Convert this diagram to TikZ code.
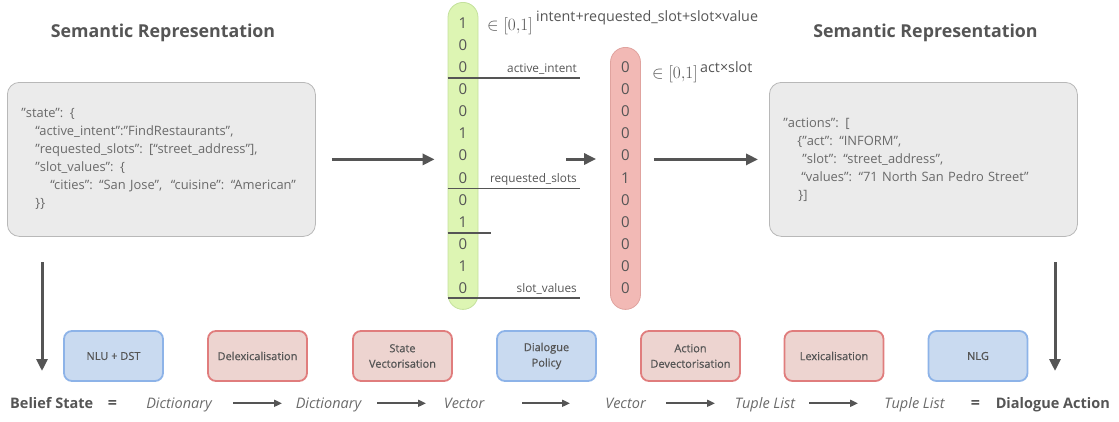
\documentclass[tikz,border=0pt]{standalone}
\usepackage{fontspec}
\setmainfont{Open Sans}
\usetikzlibrary{arrows.meta}
\definecolor{dk}{HTML}{555555}
\definecolor{txt}{HTML}{6A6A6A}
\definecolor{boxfill}{HTML}{EBEBEB}
\definecolor{boxline}{HTML}{B8B8B8}
\definecolor{bfill}{HTML}{C9DAF0}
\definecolor{bline}{HTML}{8DB3E8}
\definecolor{rfill}{HTML}{EDD4D0}
\definecolor{rline}{HTML}{E07D7D}
\definecolor{gvfill}{HTML}{DDF5B3}
\definecolor{gvline}{HTML}{C4E19C}
\definecolor{rvfill}{HTML}{F2B9B5}
\definecolor{rvline}{HTML}{E0A39F}
\begin{document}
\begin{tikzpicture}[x=1pt,y=-1pt,
  title/.style={font=\fontsize{17.8}{18}\selectfont\bfseries, text=dk, inner sep=0},
  jsonbox/.style={draw=boxline, fill=boxfill, rounded corners=12pt, line width=0.8pt,
    minimum height=154pt, text width=280pt, align=left, inner xsep=14pt, inner ysep=0pt,
    font=\fontsize{12.9}{18}\selectfont, text=txt},
  vecbox/.style={rounded corners=15pt, minimum width=30pt, inner sep=0, line width=0.8pt},
  digit/.style={font=\fontsize{15}{15}\selectfont, text=dk, inner sep=0},
  sepline/.style={draw=dk, line width=1.4pt},
  lbl/.style={font=\fontsize{11.8}{12}\selectfont, text=dk, inner sep=1pt},
  bigarr/.style={draw=dk, line width=3pt, -{Triangle[length=12pt,width=11pt]}},
  smarr/.style={draw=dk, line width=1.8pt, -{Triangle[length=8pt,width=7pt]}},
  procbox/.style={rounded corners=8pt, line width=1.8pt, minimum width=99pt, minimum height=50pt,
    align=center, font=\fontsize{11}{15.5}\selectfont\addfontfeature{FakeBold=0.6}, text=dk, inner sep=2pt},
  bluebox/.style={procbox, fill=bfill, draw=bline},
  redbox/.style={procbox, fill=rfill, draw=rline},
  itx/.style={font=\fontsize{14.5}{15}\selectfont\itshape, text=txt, inner sep=0},
  bdx/.style={font=\fontsize{14.5}{15}\selectfont\bfseries, text=dk, inner sep=0},
  eqx/.style={font=\fontsize{16}{16}\selectfont\bfseries, text=dk, inner sep=0},
  memb/.style={inner sep=0, anchor=west, text=dk, font=\fontsize{16.5}{17}\selectfont},
  supx/.style={inner sep=0, anchor=west, text=dk, font=\fontsize{14.3}{15}\selectfont}
]
\useasboundingbox (0,0) rectangle (1119,421);

% titles
\node[title] (t1) at (163,33) {Semantic Representation};
\node[title] (t2) at (925.5,33) {Semantic Representation};

% JSON boxes
\node[jsonbox, anchor=north west] (lbox) at (7,82) {%
"state": \{\\
\hspace*{14pt}“active\_intent”:"FindRestaurants",\\
\hspace*{14pt}"requested\_slots": [“street\_address”],\\
\hspace*{14pt}"slot\_values": \{\\
\hspace*{29pt}“cities”: “San Jose”,\ \ “cuisine”: “American”\\
\hspace*{14pt}\}\}};
\node[jsonbox, anchor=north west] (rbox) at (769,82) {%
"actions": [\\
\hspace*{14pt}\{"act": “INFORM",\\
\hspace*{19pt}"slot": “street\_address”,\\
\hspace*{18pt}“values”: “71 North San Pedro Street"\\
\hspace*{15pt}\}]};

% vectors
\node[vecbox, fill=gvfill, draw=gvline, minimum height=307pt, anchor=north] (gvec) at (463,2) {};
\node[vecbox, fill=rvfill, draw=rvline, minimum height=262pt, anchor=north] (rvec) at (625.5,47) {};
\foreach \d [count=\i from 0] in {1,0,0,0,0,1,0,0,0,1,0,1,0}
  \node[digit] (g\i) at (463,{22.7+22.14*\i}) {\d};
\foreach \d [count=\i from 2] in {0,0,0,0,0,1,0,0,0,0,0}
  \node[digit] (r\i) at (625.5,{22.7+22.14*\i}) {\d};

% separators
\coordinate (s1b) at (580,77.8);
\coordinate (s2b) at (580,188.5);
\coordinate (s3b) at (491,233);
\coordinate (s4b) at (580,298);
\draw[sepline] (s1b -| gvec.west) -- (s1b);
\draw[sepline] (s2b -| gvec.west) -- (s2b);
\draw[sepline] (s3b -| gvec.west) -- (s3b);
\draw[sepline] (s4b -| gvec.west) -- (s4b);
\node[lbl, anchor=south east] (l1) at (578,76) {active\_intent};
\node[lbl, anchor=south east] (l2) at (578,186.5) {requested\_slots};
\node[lbl, anchor=south east] (l3) at (578,296) {slot\_values};

% set-membership labels
\node[memb] (m1) at (487,26) {$\in[0{,}1]$};
\node[supx] (m1s) at (536,18) {intent+requested\_slot+slot×value};
\node[memb] (m2) at (652,74) {$\in[0{,}1]$};
\node[supx] (m2s) at (700,67) {act×slot};

% horizontal arrows
\draw[bigarr, shorten <=16pt, shorten >=13pt] (lbox.east) -- (lbox.east -| gvec.west);
\coordinate (mid) at (566,159);
\draw[bigarr, shorten >=14pt] (mid) -- (mid -| rvec.west);
\draw[bigarr, shorten <=13pt, shorten >=11pt] (rbox.west -| rvec.east) -- (rbox.west);

% down arrows
\coordinate (dl1) at (42,262);
\coordinate (dl2) at (42,371);
\coordinate (dr1) at (1055,262);
\coordinate (dr2) at (1055,371);
\draw[bigarr] (dl1) -- (dl2);
\draw[bigarr] (dr1) -- (dr2);

% process boxes
\node[bluebox] (nlu) at (113.5,356) {NLU + DST};
\node[redbox]  (dlx) at (257.5,356) {Delexicalisation};
\node[redbox]  (svec) at (402.5,356) {State\\Vectorisation};
\node[bluebox] (pol) at (546.5,356) {Dialogue\\Policy};
\node[redbox]  (adv) at (690.5,356) {Action\\Devectorisation};
\node[redbox]  (lex) at (834,356) {Lexicalisation};
\node[bluebox] (nlg) at (978,356) {NLG};

% bottom row
\node[bdx, anchor=base west] (bs) at (10,408) {Belief State};
\node[eqx, anchor=base] (eq1) at (112.5,408) {=};
\node[itx, anchor=base] (d1) at (179,408) {Dictionary};
\node[itx, anchor=base] (d2) at (328.5,408) {Dictionary};
\node[itx, anchor=base] (v1) at (464,408) {Vector};
\node[itx, anchor=base] (v2) at (625.5,408) {Vector};
\node[itx, anchor=base] (tl1) at (765,408) {Tuple List};
\node[itx, anchor=base] (tl2) at (914.5,408) {Tuple List};
\node[eqx, anchor=base] (eq2) at (975.5,408) {=};
\node[bdx, anchor=base east] (da) at (1110,408) {Dialogue Action};

\coordinate (a1s) at (233,403.3); \coordinate (a1e) at (282,403.3);
\coordinate (a2s) at (377,403.3); \coordinate (a2e) at (426,403.3);
\coordinate (a3s) at (522,403.3); \coordinate (a3e) at (570,403.3);
\coordinate (a4s) at (666,403.3); \coordinate (a4e) at (715,403.3);
\coordinate (a5s) at (809,403.3); \coordinate (a5e) at (858,403.3);
\draw[smarr] (a1s) -- (a1e);
\draw[smarr] (a2s) -- (a2e);
\draw[smarr] (a3s) -- (a3e);
\draw[smarr] (a4s) -- (a4e);
\draw[smarr] (a5s) -- (a5e);
\end{tikzpicture}
\end{document}
